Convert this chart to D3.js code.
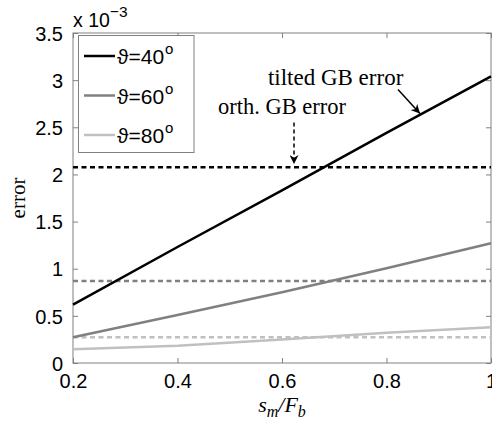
<!DOCTYPE html>
<html>
<head>
<meta charset="utf-8">
<script src="https://cdn.jsdelivr.net/npm/d3@7"></script>
<style>
  body { margin: 0; background: #fff; }
  svg { display: block; }
</style>
</head>
<body>
<div id="chart"></div>
<script>
// values (error in units of 1e-3)
var xs = [0.2, 0.4, 0.6, 0.8, 1.0];
var err40 = [0.62, 1.23, 1.83, 2.44, 3.04];
var err60 = [0.273, 0.51, 0.75, 1.005, 1.27];
var err80 = [0.145, 0.184, 0.25, 0.32, 0.379];
var orth = [2.075, 0.87, 0.273];
var labels = ["40", "60", "80"];
var colors = ["#000000", "#808080", "#c0c0c0"];
var xTicks = [0.2, 0.4, 0.6, 0.8, 1];
var yTicks = [0, 0.5, 1, 1.5, 2, 2.5, 3, 3.5];

var W = 492, H = 425;
var margin = {top: 33, right: 1, bottom: 62, left: 73};

var svg = d3.select("#chart").append("svg")
    .attr("width", W).attr("height", H);

//Scales
var x = d3.scaleLinear().domain([0.2, 1]).range([margin.left, W - margin.right]);
var y = d3.scaleLinear().domain([0, 3.5]).range([H - margin.bottom, margin.top]);

var axisCol = "#808080";
var sans = "Liberation Sans, Arial, sans-serif";
var serif = "Liberation Serif, Times New Roman, serif";

//Ticks (inside, on all four sides)
function drawAxis(axis, tr) {
  var g = svg.append("g").attr("transform", tr).call(axis);
  g.select(".domain").remove();
  g.selectAll("line").attr("stroke", axisCol);
  return g;
}
drawAxis(d3.axisBottom(x).tickValues(xTicks).tickSize(-5).tickFormat(d3.format("")),
    "translate(0," + y(0) + ")")
  .selectAll("text").attr("y", 11).attr("dy", "0.71em").style("font", "20px " + sans).attr("fill", "#000");
drawAxis(d3.axisTop(x).tickValues(xTicks).tickSize(-5).tickFormat(""),
    "translate(0," + y(3.5) + ")");
drawAxis(d3.axisLeft(y).tickValues(yTicks).tickSize(-5).tickFormat(d3.format("")),
    "translate(" + x(0.2) + ",0)")
  .selectAll("text").attr("x", -10).attr("dy", "0.36em").style("font", "20px " + sans).attr("fill", "#000");
drawAxis(d3.axisRight(y).tickValues(yTicks).tickSize(-5).tickFormat(""),
    "translate(" + x(1) + ",0)");

//Plot box
svg.append("rect")
    .attr("x", x(0.2)).attr("y", y(3.5))
    .attr("width", x(1) - x(0.2)).attr("height", y(0) - y(3.5))
    .attr("fill", "none").attr("stroke", axisCol).attr("stroke-width", 1);

//Exponent label
var ex = svg.append("text").attr("x", x(0.2)).attr("y", 27)
    .style("font", "19.5px " + sans);
ex.append("tspan").text("x 10");
ex.append("tspan").attr("dy", -10).style("font-size", "15.5px").text("\u22123");

//Dashed orth. levels
orth.forEach(function(v, i) {
  svg.append("line")
      .attr("x1", x(0.2)).attr("x2", x(1))
      .attr("y1", y(v)).attr("y2", y(v))
      .attr("stroke", colors[i]).attr("stroke-width", 2.5)
      .attr("stroke-dasharray", "5,3.5");
});

//Solid tilted error curves
var line = d3.line().x(function(d) { return x(d[0]); }).y(function(d) { return y(d[1]); });
[err40, err60, err80].forEach(function(s, i) {
  svg.append("path")
      .datum(xs.map(function(v, j) { return [v, s[j]]; }))
      .attr("d", line)
      .attr("fill", "none").attr("stroke", colors[i]).attr("stroke-width", 2.5);
});

//Annotations
svg.append("defs").append("marker")
    .attr("id", "arr").attr("viewBox", "0 0 10 10").attr("refX", 10).attr("refY", 5)
    .attr("markerWidth", 9).attr("markerHeight", 9).attr("orient", "auto")
    .attr("markerUnits", "userSpaceOnUse")
  .append("path").attr("d", "M0,0 L10,5 L0,10 L3,5 Z").attr("fill", "#000");

svg.append("text").attr("x", x(0.573)).attr("y", y(2.95))
    .style("font", "23px " + serif).text("tilted GB error");
svg.append("line")
    .attr("x1", x(0.822)).attr("y1", y(2.9)).attr("x2", x(0.864)).attr("y2", y(2.645))
    .attr("stroke", "#000").attr("stroke-width", 1.5).attr("marker-end", "url(#arr)");

svg.append("text").attr("x", x(0.4775)).attr("y", y(2.645))
    .style("font", "22.5px " + serif).text("orth. GB error");
svg.append("line")
    .attr("x1", x(0.623)).attr("y1", y(2.55)).attr("x2", x(0.623)).attr("y2", y(2.11))
    .attr("stroke", "#000").attr("stroke-width", 1.5).attr("stroke-dasharray", "4,3")
    .attr("marker-end", "url(#arr)");

//Legend
var lg = svg.append("g");
lg.append("rect").attr("x", 78.5).attr("y", 35.5).attr("width", 115.5).attr("height", 117)
    .attr("fill", "#fff").attr("stroke", axisCol);
labels.forEach(function(l, i) {
  var cy = 56 + i * 39.5;
  lg.append("line").attr("x1", 84).attr("x2", 115).attr("y1", cy).attr("y2", cy)
      .attr("stroke", colors[i]).attr("stroke-width", 2.5);
  var t = lg.append("text").attr("x", 117).attr("y", cy + 8).style("font", "21px " + sans);
  t.append("tspan").text("\u03D1=" + l);
  t.append("tspan").attr("dx", 1).attr("dy", -10).style("font-size", "15px").text("o");
});

//Axis titles
svg.append("text")
    .attr("transform", "translate(25," + y(1.75) + ") rotate(-90)")
    .attr("text-anchor", "middle").style("font", "21px " + serif).text("error");
var xl = svg.append("text").attr("x", x(0.6)).attr("y", 412)
    .attr("text-anchor", "middle").style("font", "italic 22px " + serif);
xl.append("tspan").text("s");
xl.append("tspan").attr("dy", 5).style("font-size", "16px").text("m");
xl.append("tspan").attr("dy", -5).text("/F");
xl.append("tspan").attr("dy", 5).style("font-size", "16px").text("b");
</script>
</body>
</html>
